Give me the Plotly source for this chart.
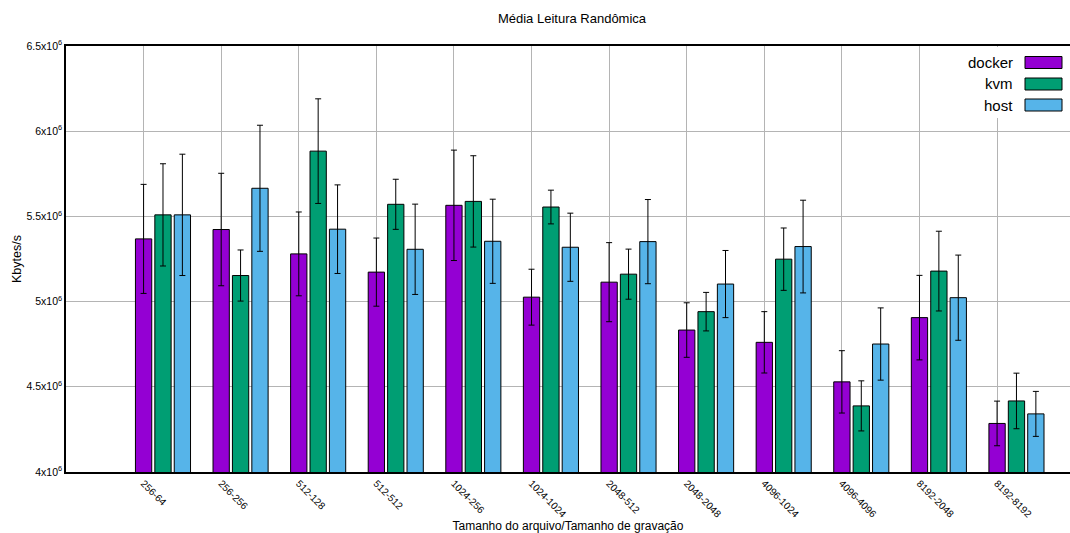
import plotly.graph_objects as go

# Read throughput (Kbytes/s): mean and error per file size / record size
categories = ["256-64", "256-256", "512-128", "512-512", "1024-256", "1024-1024",
              "2048-512", "2048-2048", "4096-1024", "4096-4096", "8192-2048", "8192-8192"]

docker = [5.368e6, 5.423e6, 5.280e6, 5.173e6, 5.565e6, 5.026e6,
          5.114e6, 4.833e6, 4.761e6, 4.529e6, 4.906e6, 4.285e6]
docker_err = [0.320e6, 0.330e6, 0.246e6, 0.200e6, 0.324e6, 0.164e6,
              0.232e6, 0.160e6, 0.180e6, 0.183e6, 0.248e6, 0.131e6]

kvm = [5.509e6, 5.153e6, 5.883e6, 5.571e6, 5.588e6, 5.555e6,
       5.161e6, 4.941e6, 5.249e6, 4.388e6, 5.179e6, 4.417e6]
kvm_err = [0.300e6, 0.150e6, 0.307e6, 0.147e6, 0.268e6, 0.099e6,
           0.147e6, 0.113e6, 0.183e6, 0.147e6, 0.234e6, 0.163e6]

host = [5.509e6, 5.665e6, 5.425e6, 5.307e6, 5.354e6, 5.319e6,
        5.352e6, 5.103e6, 5.323e6, 4.751e6, 5.023e6, 4.341e6]
host_err = [0.356e6, 0.370e6, 0.260e6, 0.265e6, 0.247e6, 0.200e6,
            0.247e6, 0.197e6, 0.272e6, 0.212e6, 0.250e6, 0.132e6]

y_ticks = [4.0e6, 4.5e6, 5.0e6, 5.5e6, 6.0e6, 6.5e6]
y_tick_text = ["4x10<sup>6</sup>", "4.5x10<sup>6</sup>", "5x10<sup>6</sup>",
               "5.5x10<sup>6</sup>", "6x10<sup>6</sup>", "6.5x10<sup>6</sup>"]

series = [
    ("docker", docker, docker_err, "#9400D3"),
    ("kvm", kvm, kvm_err, "#009E73"),
    ("host", host, host_err, "#56B4E9"),
]

FONT = "Liberation Sans, Arial, Helvetica, sans-serif"
W, H = 1070, 533
ML, MR, MT, MB = 66, 0, 46, 61

slot = 0.25
bar_w = 0.21
idx = list(range(len(categories)))

fig = go.Figure()
for k, (name, vals, errs, color) in enumerate(series):
    fig.add_trace(go.Bar(
        x=[i + k * slot for i in idx],
        y=vals,
        width=bar_w,
        name=name,
        marker=dict(color=color, line=dict(color="black", width=1)),
        error_y=dict(type="data", array=errs, visible=True,
                     color="black", thickness=1, width=3),
        showlegend=False,
    ))

# Legend drawn on the right, text before the swatch
def px_x(p):
    return (p - ML) / (W - ML - MR)

def px_y(p):
    return (H - MB - p) / (H - MT - MB)

shapes = [dict(type="rect", xref="paper", yref="paper",
               x0=px_x(955), x1=px_x(1069), y0=px_y(118), y1=px_y(47),
               fillcolor="white", line=dict(width=0), layer="above")]
annotations = []
row_y = [62.5, 84, 105]
for (name, vals, errs, color), ry in zip(series, row_y):
    shapes.append(dict(type="rect", xref="paper", yref="paper",
                       x0=px_x(1025), x1=px_x(1062), y0=px_y(ry + 6), y1=px_y(ry - 6),
                       fillcolor=color, line=dict(color="black", width=1), layer="above"))
    annotations.append(dict(text=name, xref="paper", yref="paper",
                            x=px_x(1015), y=px_y(ry), xanchor="right", yanchor="middle",
                            showarrow=False, font=dict(family=FONT, size=15, color="black")))

fig.update_layout(
    width=W, height=H,
    margin=dict(l=ML, r=MR, t=MT, b=MB, autoexpand=False),
    paper_bgcolor="white", plot_bgcolor="white",
    font=dict(family=FONT, color="black"),
    title=dict(text="Média Leitura Randômica", x=(572) / W, xanchor="center",
               y=1 - 18 / H, yanchor="middle", font=dict(size=13)),
    barmode="overlay",
    shapes=shapes,
    annotations=annotations,
    xaxis=dict(
        range=[-1.0, 11.94],
        tickvals=idx, ticktext=categories, tickangle=45,
        tickfont=dict(size=10), automargin=False,
        showgrid=True, gridcolor="#b4b4b4", gridwidth=1,
        showline=True, linecolor="black", linewidth=1.5, mirror=True,
        ticks="", zeroline=False,
        title=dict(text="Tamanho do arquivo/Tamanho de gravação",
                   font=dict(size=12), standoff=8),
    ),
    yaxis=dict(
        range=[4.0e6, 6.5e6],
        tickvals=y_ticks, ticktext=y_tick_text,
        tickfont=dict(size=10.5), automargin=False,
        showgrid=True, gridcolor="#b4b4b4", gridwidth=1,
        showline=True, linecolor="black", linewidth=1.5,
        ticks="", zeroline=False,
        title=dict(text="Kbytes/s", font=dict(size=12.5), standoff=2),
    ),
)

fig.write_html("out.html")
